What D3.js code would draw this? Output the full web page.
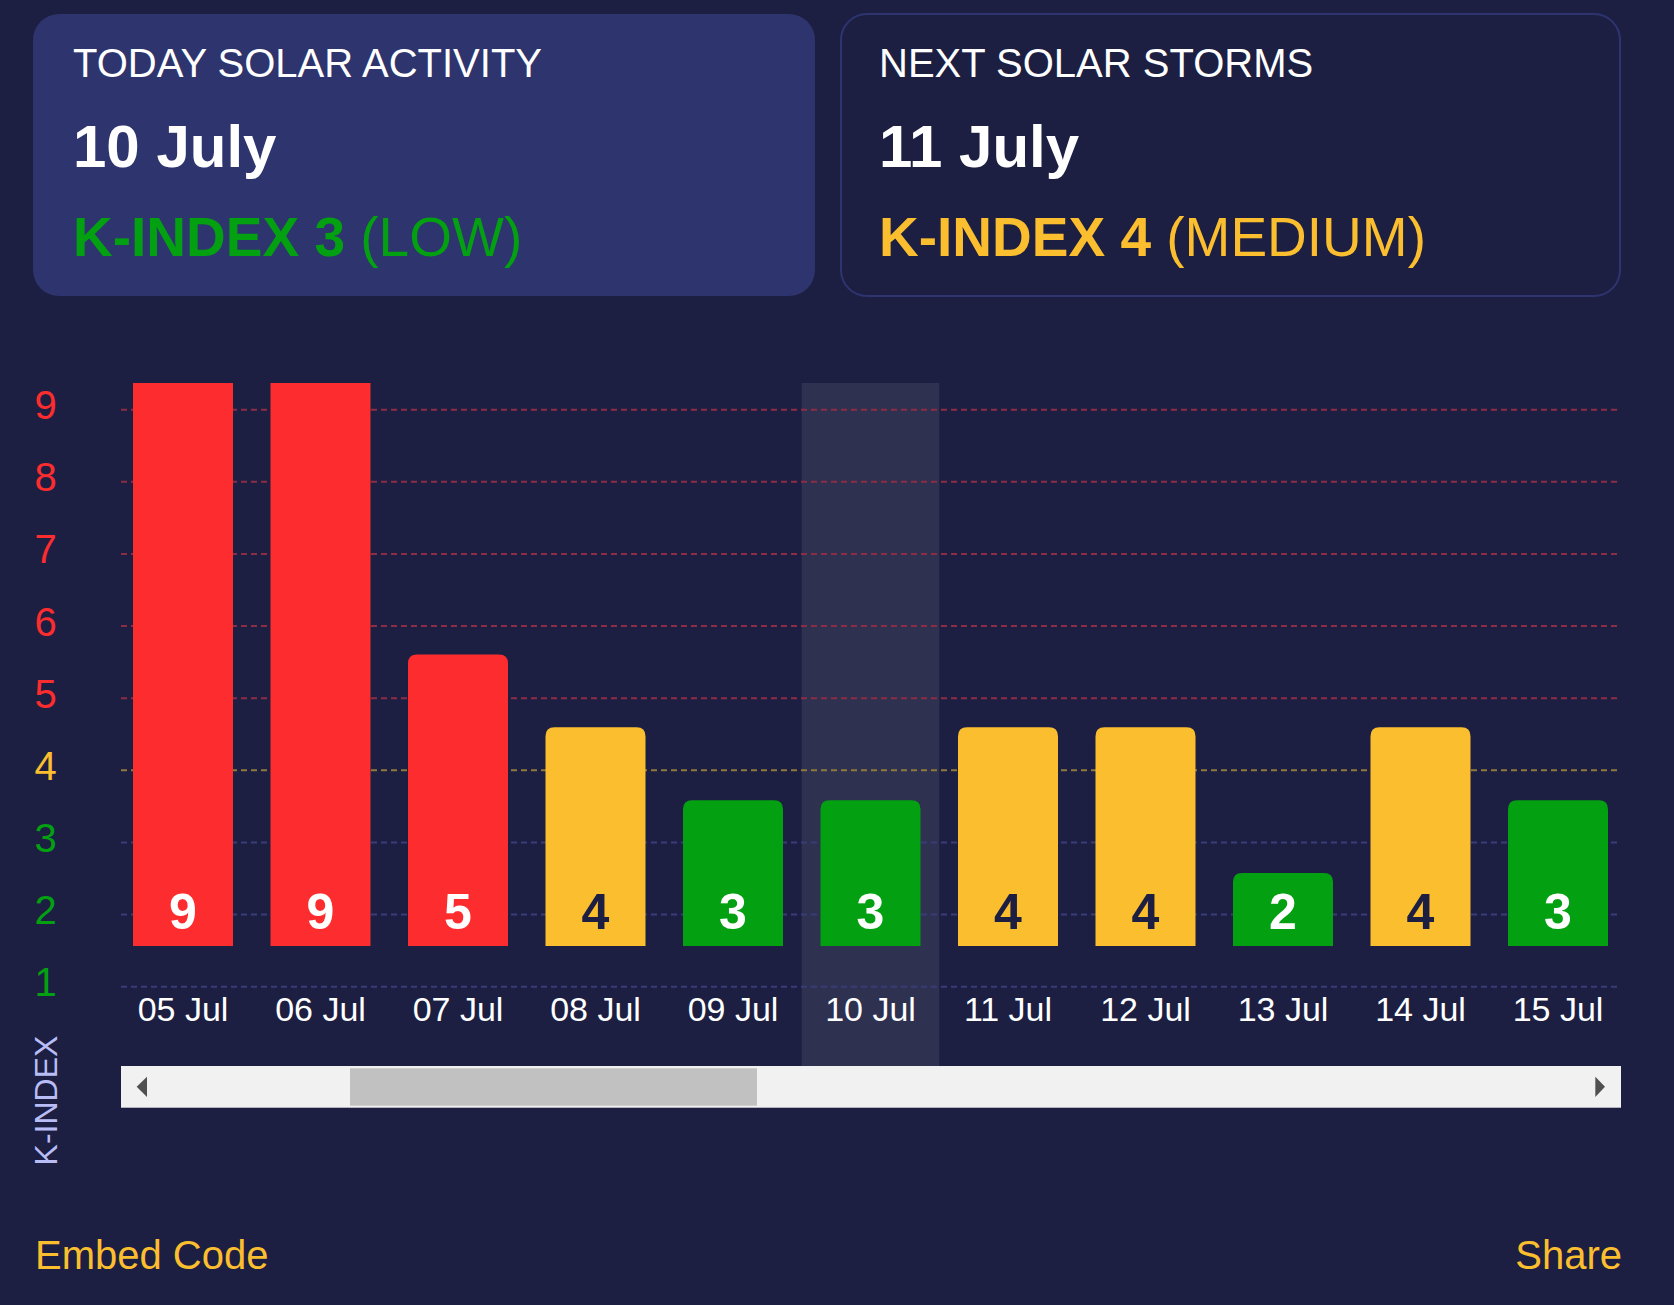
<!DOCTYPE html>
<html>
<head>
<meta charset="utf-8">
<script src="https://cdn.jsdelivr.net/npm/d3@7"></script>
<style>
  html, body { margin: 0; padding: 0; background: #1c1f42; }
  svg { display: block; font-family: "Liberation Sans", Arial, sans-serif; }
</style>
</head>
<body>
<svg id="chart" width="1674" height="1305"></svg>
<script>
// ---- data ----
const dates = ["05 Jul", "06 Jul", "07 Jul", "08 Jul", "09 Jul", "10 Jul", "11 Jul", "12 Jul", "13 Jul", "14 Jul", "15 Jul"];
const kIndex = [9, 9, 5, 4, 3, 3, 4, 4, 2, 4, 3];
const yTicks = [1, 2, 3, 4, 5, 6, 7, 8, 9];
const todayLabel = "10 Jul";
const cardToday = { title: "TODAY SOLAR ACTIVITY", date: "10 July", k: "K-INDEX 3", level: " (LOW)", value: 3 };
const cardNext = { title: "NEXT SOLAR STORMS", date: "11 July", k: "K-INDEX 4", level: " (MEDIUM)", value: 4 };
const yAxisTitle = "K-INDEX";
const footerLeft = "Embed Code";
const footerRight = "Share";

// ---- styles ----
const C = { bg: "#1c1f42", card: "#2e346d", cardBorder: "#2e3470", red: "#fd2c2e", yellow: "#fbbe2e", green: "#03a012",
            band: "#2e3150", gridRed: "#8c2d45", gridYellow: "#8e7a3c", gridBlue: "#383d78", axisTitle: "#b8bdf5" };
const colorOf = v => v >= 5 ? C.red : (v === 4 ? C.yellow : C.green);
const gridColorOf = v => v >= 5 ? C.gridRed : (v === 4 ? C.gridYellow : C.gridBlue);

const svg = d3.select("#chart");
svg.append("rect").attr("width", 1674).attr("height", 1305).attr("fill", C.bg);

// ---- cards ----
function card(x, w, d, filled, tx) {
  const g = svg.append("g");
  g.append("rect").attr("x", x).attr("y", 14).attr("width", w).attr("height", 282).attr("rx", 26)
    .attr("fill", filled ? C.card : C.bg)
    .attr("stroke", filled ? "none" : C.cardBorder).attr("stroke-width", 2);
  g.append("text").attr("x", tx).attr("y", 77).attr("fill", "#fff").attr("font-size", 40).text(d.title);
  g.append("text").attr("x", tx).attr("y", 167).attr("fill", "#fff").attr("font-size", 60).attr("font-weight", "bold").text(d.date);
  const t = g.append("text").attr("x", tx).attr("y", 256).attr("fill", colorOf(d.value)).attr("font-size", 55);
  t.append("tspan").attr("font-weight", "bold").text(d.k);
  t.append("tspan").attr("font-weight", "normal").text(d.level);
}
card(33, 782, cardToday, true, 73);
card(841, 779, cardNext, false, 879);

// ---- scales ----
const plotTop = 383, gridLeft = 121, gridRight = 1621;
const y = d3.scaleLinear().domain([1, 9]).range([986.7, 409.7]);
const yBar = d3.scaleLinear().domain([1, 9]).range([946, 362.8]);
const x = d3.scaleBand().domain(dates).range([114.25, 1626.75]).paddingInner(0.2727).paddingOuter(0.13636);
const step = x.step();

// highlight band for today
svg.append("rect")
  .attr("x", x(todayLabel) - (step - x.bandwidth()) / 2).attr("y", plotTop)
  .attr("width", step).attr("height", 1066 - plotTop).attr("fill", C.band);

// gridlines
svg.append("g").selectAll("line").data(yTicks).join("line")
  .attr("x1", gridLeft).attr("x2", gridRight)
  .attr("y1", d => y(d)).attr("y2", d => y(d))
  .attr("stroke", d => gridColorOf(d)).attr("stroke-width", 2).attr("stroke-dasharray", "6,4");

// y labels
svg.append("g").selectAll("text").data(yTicks).join("text")
  .attr("x", 45.5).attr("y", d => y(d) + 9.5).attr("text-anchor", "middle")
  .attr("font-size", 40).attr("fill", d => colorOf(d)).text(d => d);

// y axis title
svg.append("text").attr("transform", "translate(56.5,1100.5) rotate(-90)")
  .attr("text-anchor", "middle").attr("font-size", 32).attr("fill", C.axisTitle).text(yAxisTitle);

// bars
svg.append("defs").append("clipPath").attr("id", "plotclip")
  .append("rect").attr("x", 0).attr("y", plotTop).attr("width", 1674).attr("height", 1000);
const r = 9;
function barPath(x0, w, top, bottom) {
  return `M${x0},${bottom} V${top + r} Q${x0},${top} ${x0 + r},${top} H${x0 + w - r} Q${x0 + w},${top} ${x0 + w},${top + r} V${bottom} Z`;
}
const bars = dates.map((d, i) => ({ date: d, v: kIndex[i] }));
svg.append("g").attr("clip-path", "url(#plotclip)").selectAll("path").data(bars).join("path")
  .attr("d", d => barPath(x(d.date), x.bandwidth(), yBar(d.v), yBar(1)))
  .attr("fill", d => colorOf(d.v));

// bar value labels
svg.append("g").selectAll("text").data(bars).join("text")
  .attr("x", d => x(d.date) + x.bandwidth() / 2).attr("y", yBar(1) - 17)
  .attr("text-anchor", "middle").attr("font-size", 50).attr("font-weight", "bold")
  .attr("fill", d => d.v === 4 ? C.bg : "#fff").text(d => d.v);

// x labels
svg.append("g").selectAll("text").data(dates).join("text")
  .attr("x", d => x(d) + x.bandwidth() / 2).attr("y", 1021)
  .attr("text-anchor", "middle").attr("font-size", 34).attr("fill", "#fff").text(d => d);

// scrollbar
const sb = svg.append("g");
sb.append("rect").attr("x", gridLeft).attr("y", 1066).attr("width", gridRight - gridLeft).attr("height", 41.7).attr("fill", "#f1f1f1");
sb.append("rect").attr("x", 350).attr("y", 1068.3).attr("width", 407).attr("height", 37.4).attr("fill", "#c1c1c1");
sb.append("path").attr("d", "M136.7,1086.8 L147,1076.7 L147,1097 Z").attr("fill", "#505050");
sb.append("path").attr("d", "M1605,1086.8 L1595.3,1076.7 L1595.3,1097 Z").attr("fill", "#505050");

// footer
svg.append("text").attr("x", 35).attr("y", 1269).attr("font-size", 40).attr("fill", C.yellow).text(footerLeft);
svg.append("text").attr("x", 1622).attr("y", 1269).attr("text-anchor", "end").attr("font-size", 40).attr("fill", C.yellow).text(footerRight);
</script>
</body>
</html>
